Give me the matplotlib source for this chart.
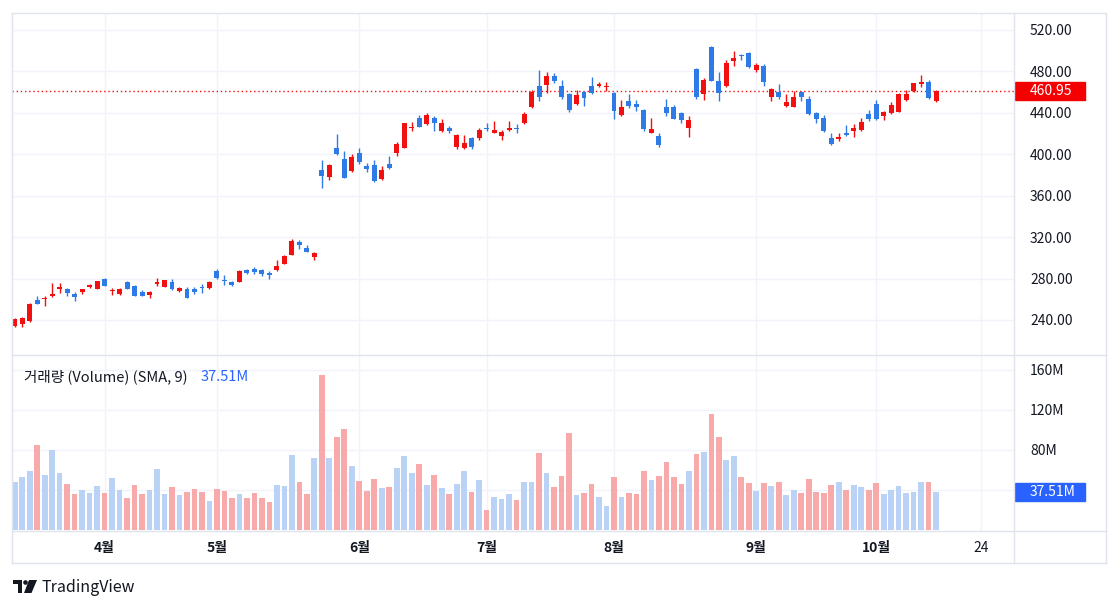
import matplotlib
matplotlib.use("Agg")
import matplotlib.pyplot as plt
import matplotlib.transforms as mtransforms
from matplotlib.patches import Rectangle, Circle, Polygon
import numpy as np

# ---------------- data ----------------
opens = [234, 236, 239, 259, 260, 263.5, 270, 270, 265, 267,
         271.5, 270, 280, 268, 265, 277, 273, 267.5, 264, 274.5,
         272, 277, 268, 269.5, 270, 272, 271, 287, 278, 276.5,
         277, 288.5, 289, 288.5, 285, 288, 294.5, 303, 315.5, 309.5,
         301, 385, 378, 406, 395.5, 384, 401, 389, 390, 376,
         390.5, 401.5, 406.5, 425.5, 435, 429, 435.5, 422, 425, 407,
         406, 416, 415.5, 425, 421, 417.7, 423, 425.5, 430, 445.5,
         466, 467, 475.5, 466, 458, 448.5, 460.5, 466, 466, 464.5,
         459, 437.5, 451, 448.5, 443, 421, 418, 445.5, 445.5, 439.5,
         425.5, 482, 458, 503.5, 471, 466, 490.5, 495, 497.5, 481.5,
         485, 455, 460.5, 447, 446, 460.5, 453.5, 439.5, 435.5, 416,
         414.5, 421, 422.5, 423.5, 439, 448.5, 437, 439.5, 441, 452.5,
         461, 467.5, 469.5, 451]
highs = [242, 242.5, 256, 263, 263, 276, 275.5, 271, 267.5, 270,
         275, 278, 281, 271, 270.5, 278, 274, 268.5, 268, 281,
         279, 280, 271.5, 272, 272, 274.5, 277.5, 289, 283, 278,
         288, 289.5, 291, 289.5, 287, 298, 302.5, 318, 317, 312,
         306, 394.5, 391, 419.5, 403.5, 400, 406, 392, 394, 388.5,
         398, 412, 430.5, 431, 438, 440, 436.5, 434.5, 427.5, 419.5,
         418.5, 417, 425, 430, 432, 423, 432, 429, 440.5, 462,
         481.5, 479, 478, 472, 459, 462, 461, 475, 470, 470,
         460, 452, 458, 452.5, 444, 435.5, 420.5, 453, 447.5, 441,
         436.5, 483, 473.5, 504.5, 479, 491, 500, 496.5, 498.5, 488.5,
         487, 464, 467.5, 458, 461, 461, 456.5, 441, 438, 421,
         421, 428.5, 429, 435, 443, 452, 442, 450, 459, 462.5,
         469, 476.5, 472, 462]
lows = [233, 233.5, 238, 255, 253.5, 262.5, 266.5, 263.5, 258.5, 265.5,
        271, 269.5, 272.5, 264, 264.5, 269.5, 263, 263, 261, 273,
        272, 269, 267, 261, 265.5, 266.5, 270, 280, 274, 272.5,
        276.5, 284, 284.5, 282, 280, 287, 294, 302.5, 309, 305.5,
        298, 367, 375, 399, 377, 383, 390.5, 382.5, 373.5, 375,
        385.5, 398, 406, 422, 426, 428, 422, 421.5, 421, 405,
        405, 405.5, 414, 422.5, 420.5, 414, 422.5, 421, 429, 445,
        451.5, 459, 468.5, 453, 441, 447.5, 446.5, 458, 464.5, 461.5,
        434, 437, 444.5, 442, 422, 420.5, 407, 437, 434, 430.5,
        417, 453, 452.5, 470.5, 451, 464.5, 485.5, 491, 483, 479,
        466, 451.5, 453, 446, 445.5, 451.5, 438, 430.5, 421.5, 409,
        413, 417.5, 417, 422, 432.5, 433, 433, 438.5, 441, 451.5,
        460, 464.5, 453, 450]
closes = [241, 242, 255, 255.5, 261.5, 265, 272, 266.5, 262.5, 269.5,
          274, 277.5, 273, 269, 270, 270, 263.5, 263.5, 267, 276.5,
          278.5, 270, 271, 261.5, 267.5, 271, 277, 281, 277.5, 274,
          287, 285, 286.5, 284.5, 283, 292, 302, 316, 312, 306,
          305, 379, 389.5, 400.5, 377.5, 397, 393, 386, 374.5, 385,
          387, 410, 430, 426.5, 426.5, 438, 430.5, 430.5, 422, 418.5,
          410.5, 407, 423.5, 424, 423.5, 421.8, 425, 424.5, 439, 460.5,
          455, 475.5, 471, 455, 443, 457, 454.5, 459, 468, 466,
          442, 445.5, 447, 446, 424, 424.5, 408.5, 439.5, 434.5, 433,
          433, 455.5, 471.5, 471, 459.5, 488.5, 492.5, 494.5, 484.5, 486,
          470, 463, 455.5, 450, 455, 455.5, 438.5, 434, 422, 409.5,
          417, 418.5, 425.5, 431.5, 434, 434, 441, 447.5, 458, 458,
          468.5, 470, 454.5, 460.95]
volumes_m = [48, 53, 59, 85, 55, 80, 57, 46, 36, 40,
             37, 44, 37, 52, 40, 32, 45, 36, 40, 61,
             36, 43, 35, 38, 41, 38, 29, 41, 39, 32,
             36, 32, 37, 32, 28, 45, 44, 75, 48, 36,
             72, 155, 72, 93, 101, 64, 49, 39, 51, 42,
             43, 62, 74, 57, 66, 45, 55, 42, 36, 46,
             59, 38, 50, 20, 33, 31, 36, 30, 48, 48,
             77, 57, 43, 54, 97, 35, 37, 46, 33, 24,
             53, 33, 37, 36, 59, 50, 54, 68, 53, 46,
             59, 76, 78, 116, 93, 70, 74, 53, 47, 39,
             47, 44, 48, 35, 40, 37, 51, 38, 37, 45,
             48, 40, 45, 43, 40, 47, 36, 40, 44, 37,
             38, 48, 48, 37.51]

month_tick_index = [12, 27, 46, 63, 80, 99, 115, 129]
month_tick_labels = ["4월", "5월", "6월", "7월", "8월", "9월", "10월", "24"]
price_ticks = [240, 280, 320, 360, 400, 440, 480, 520]
volume_ticks = [40, 80, 120, 160]
volume_tick_labels = ["", "80M", "120M", "160M"]
last_price = 460.95
last_volume = 37.51
last_volume_text = "37.51M"
volume_title = "거래량 (Volume) (SMA, 9)"

# ---------------- style ----------------
plt.rcParams["font.family"] = ["Noto Sans CJK KR", "DejaVu Sans"]
UP = "#F20F0F"
DOWN = "#2E7BE8"
VOL_UP = "#BBD2F7"      # volume colour for rising candles
VOL_DOWN = "#F8AAAA"    # volume colour for falling candles
GRID = "#F0F3FA"
FRAME = "#E0E3EB"
TXT = "#131722"

W, H = 1118, 609
fig = plt.figure(figsize=(W / 100, H / 100), dpi=100)
fig.patch.set_facecolor("white")

def fx(px):
    return px / W

def fy(py):
    return 1 - py / H

L, R = 12, 1014
ax = fig.add_axes([fx(L), fy(355), (R - L) / W, (355 - 13) / H])
axv = fig.add_axes([fx(L), fy(531), (R - L) / W, (531 - 355) / H])

o = np.array(opens, float)
h = np.array(highs, float)
l = np.array(lows, float)
c = np.array(closes, float)
v = np.array(volumes_m, float)
x = np.arange(len(o))
rising = c >= o
ccol = np.where(rising, UP, DOWN)
vcol = np.where(rising, VOL_UP, VOL_DOWN)

xlim = (-0.36, 133.4)

# ---- price pane ----
ax.vlines(x, l, h, colors=ccol, lw=1, zorder=3)
body_lo = np.minimum(o, c)
body_h = np.maximum(np.abs(c - o), 0.9)
ax.bar(x, body_h, bottom=body_lo, width=0.66, color=ccol, lw=0, zorder=4)
ax.axhline(last_price, color=UP, lw=1, ls=(0, (1, 2)), zorder=2)
ax.set_xlim(*xlim)
ax.set_ylim(206.2, 536.4)
ax.set_yticks(price_ticks)
ax.set_yticklabels([f"{t:.2f}" for t in price_ticks])
ax.set_xticks(month_tick_index)
ax.grid(True, color=GRID, lw=1)
ax.set_axisbelow(True)
ax.yaxis.tick_right()
ax.tick_params(axis="y", length=0, pad=11.5, labelsize=10, labelcolor=TXT)
ax.tick_params(axis="x", length=0, labelbottom=False)
for s in ax.spines.values():
    s.set_visible(False)

tp = mtransforms.blended_transform_factory(ax.transAxes, ax.transData)
ax.add_patch(Rectangle((1.0005, last_price - 8.9), 70 / (R - L), 17.8,
                       transform=tp, color="#F50000", clip_on=False, zorder=6))
ax.text(1.016, last_price, f"{last_price:.2f}", transform=tp, ha="left",
        va="center", color="white", fontsize=10, zorder=7, clip_on=False)

# ---- volume pane ----
axv.bar(x, v, width=0.76, color=vcol, lw=0, zorder=3)
axv.set_xlim(*xlim)
axv.set_ylim(-1.5, 174.5)
axv.set_yticks(volume_ticks)
axv.set_yticklabels(volume_tick_labels)
axv.set_xticks(month_tick_index)
axv.set_xticklabels(month_tick_labels)
axv.grid(True, color=GRID, lw=1)
axv.set_axisbelow(True)
axv.yaxis.tick_right()
axv.tick_params(axis="y", length=0, pad=11.5, labelsize=10, labelcolor=TXT)
axv.tick_params(axis="x", length=0, pad=7, labelsize=10, labelcolor=TXT)
for lab in axv.get_xticklabels():
    if "월" in lab.get_text():
        lab.set_fontweight("bold")
for s in axv.spines.values():
    s.set_visible(False)

tv = mtransforms.blended_transform_factory(axv.transAxes, axv.transData)
axv.add_patch(Rectangle((1.0005, last_volume - 9), 70 / (R - L), 18,
                        transform=tv, color="#2962FF", clip_on=False, zorder=6))
axv.text(1.016, last_volume, last_volume_text, transform=tv, ha="left",
         va="center", color="white", fontsize=10, zorder=7, clip_on=False)

t1 = axv.text((24 - L) / (R - L), 1 - (377 - 355) / (531 - 355), volume_title,
              transform=axv.transAxes, ha="left", va="center", fontsize=10.5,
              color=TXT, zorder=8)
axv.annotate(last_volume_text, xy=(1, 0.5), xycoords=t1, xytext=(9, 0),
             textcoords="offset points", ha="left", va="center",
             fontsize=10.5, color="#2962FF", zorder=8)

# ---- frame lines and logo (figure pixel coordinates) ----
ov = fig.add_axes([0, 0, 1, 1], zorder=10)
ov.set_xlim(0, W)
ov.set_ylim(H, 0)
ov.axis("off")
ov.patch.set_alpha(0)
fl = dict(color=FRAME, lw=1)
ov.plot([12, 1106], [13, 13], **fl)
ov.plot([12, 1106], [563, 563], **fl)
ov.plot([12, 12], [13, 563], **fl)
ov.plot([1106, 1106], [13, 563], **fl)
ov.plot([1014, 1014], [13, 563], **fl)
ov.plot([12, 1106], [355, 355], **fl)
ov.plot([12, 1106], [531, 531], **fl)

# TradingView logo
ov.add_patch(Rectangle((13, 580), 9, 4, color=TXT, lw=0))
ov.add_patch(Rectangle((18, 580), 4, 13, color=TXT, lw=0))
ov.add_patch(Circle((25.5, 582.5), 2.3, color=TXT, lw=0))
ov.add_patch(Polygon([[29, 580], [37, 580], [31.5, 593], [24, 593]], closed=True,
                     color=TXT, lw=0))
ov.text(41, 587, "TradingView", ha="left", va="center", fontsize=11.5, color=TXT)

fig.savefig("out.png", dpi=100, facecolor="white")
